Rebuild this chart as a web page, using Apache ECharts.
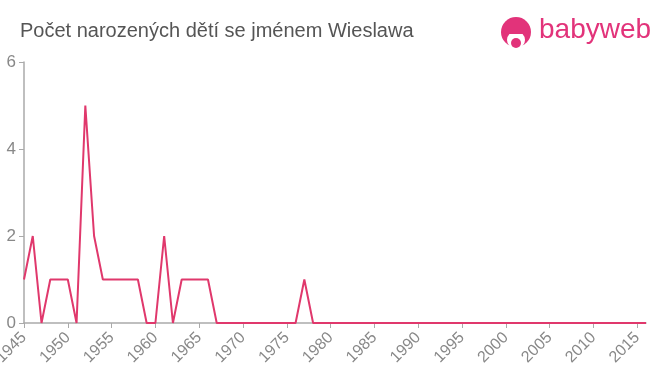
<!DOCTYPE html>
<html><head><meta charset="utf-8">
<script src="https://cdn.jsdelivr.net/npm/echarts@6/dist/echarts.min.js"></script>
<style>html,body{margin:0;padding:0;background:#fff}#c{width:660px;height:375px}</style>
</head><body><div id="c"></div>
<script>
const titleText = 'Počet narozených dětí se jménem Wieslawa';
const years = [];
for (let y = 1945; y <= 2016; y++) years.push(String(y));
const counts = [
  1, 2, 0, 1, 1, 1, 0, 5, 2, 1, // 1945-1954
  1, 1, 1, 1, 0, 0, 2, 0, 1, 1, // 1955-1964
  1, 1, 0, 0, 0, 0, 0, 0, 0, 0, // 1965-1974
  0, 0, 1, 0, 0, 0, 0, 0, 0, 0, // 1975-1984
  0, 0, 0, 0, 0, 0, 0, 0, 0, 0, // 1985-1994
  0, 0, 0, 0, 0, 0, 0, 0, 0, 0, // 1995-2004
  0, 0, 0, 0, 0, 0, 0, 0, 0, 0, // 2005-2014
  0, 0                          // 2015-2016
];
const yTicks = [0, 2, 4, 6];
const pink = '#e2337a';
const chart = echarts.init(document.getElementById('c'));
chart.setOption({
  animation: false,
  grid: {left: 24, right: 14, top: 62, bottom: 52, containLabel: false, outerBoundsMode: 'none'},
  title: {text: titleText, left: 15, top: 16,
    textStyle: {fontFamily: 'Liberation Sans, Arial, sans-serif', fontSize: 20, fontWeight: 'normal', color: '#555'}},
  graphic: [
    {type: 'circle', shape: {cx: 516, cy: 32, r: 15}, style: {fill: pink}},
    {type: 'circle', shape: {cx: 516, cy: 40, r: 9}, style: {fill: '#fff'}},
    {type: 'circle', shape: {cx: 516, cy: 43, r: 5}, style: {fill: pink}},
    {type: 'rect', shape: {x: 507, y: 28, width: 18, height: 6}, style: {fill: pink}},
    {type: 'text', left: 539, top: 16, style: {text: 'babyweb', fill: pink,
      font: '28px "Liberation Sans", Arial, sans-serif'}}
  ],
  xAxis: {
    type: 'category', data: years, boundaryGap: false,
    axisLine: {lineStyle: {color: '#aaa', width: 1.5}},
    axisTick: {interval: 4, length: 5, lineStyle: {color: '#aaa'}},
    axisLabel: {interval: 4, rotate: 45, fontSize: 16, color: '#888', margin: 12,
      fontFamily: 'Liberation Sans, Arial, sans-serif'}
  },
  yAxis: {
    type: 'value', min: yTicks[0], max: yTicks[yTicks.length - 1], interval: 2,
    splitLine: {show: false},
    axisLine: {show: true, lineStyle: {color: '#aaa', width: 1.5}},
    axisTick: {show: true, length: 5, lineStyle: {color: '#aaa'}},
    axisLabel: {fontSize: 17, color: '#888', margin: 8,
      fontFamily: 'Liberation Sans, Arial, sans-serif'}
  },
  series: [{
    type: 'line', data: counts, symbol: 'none',
    lineStyle: {color: '#e0386c', width: 2}
  }]
});
</script></body></html>
